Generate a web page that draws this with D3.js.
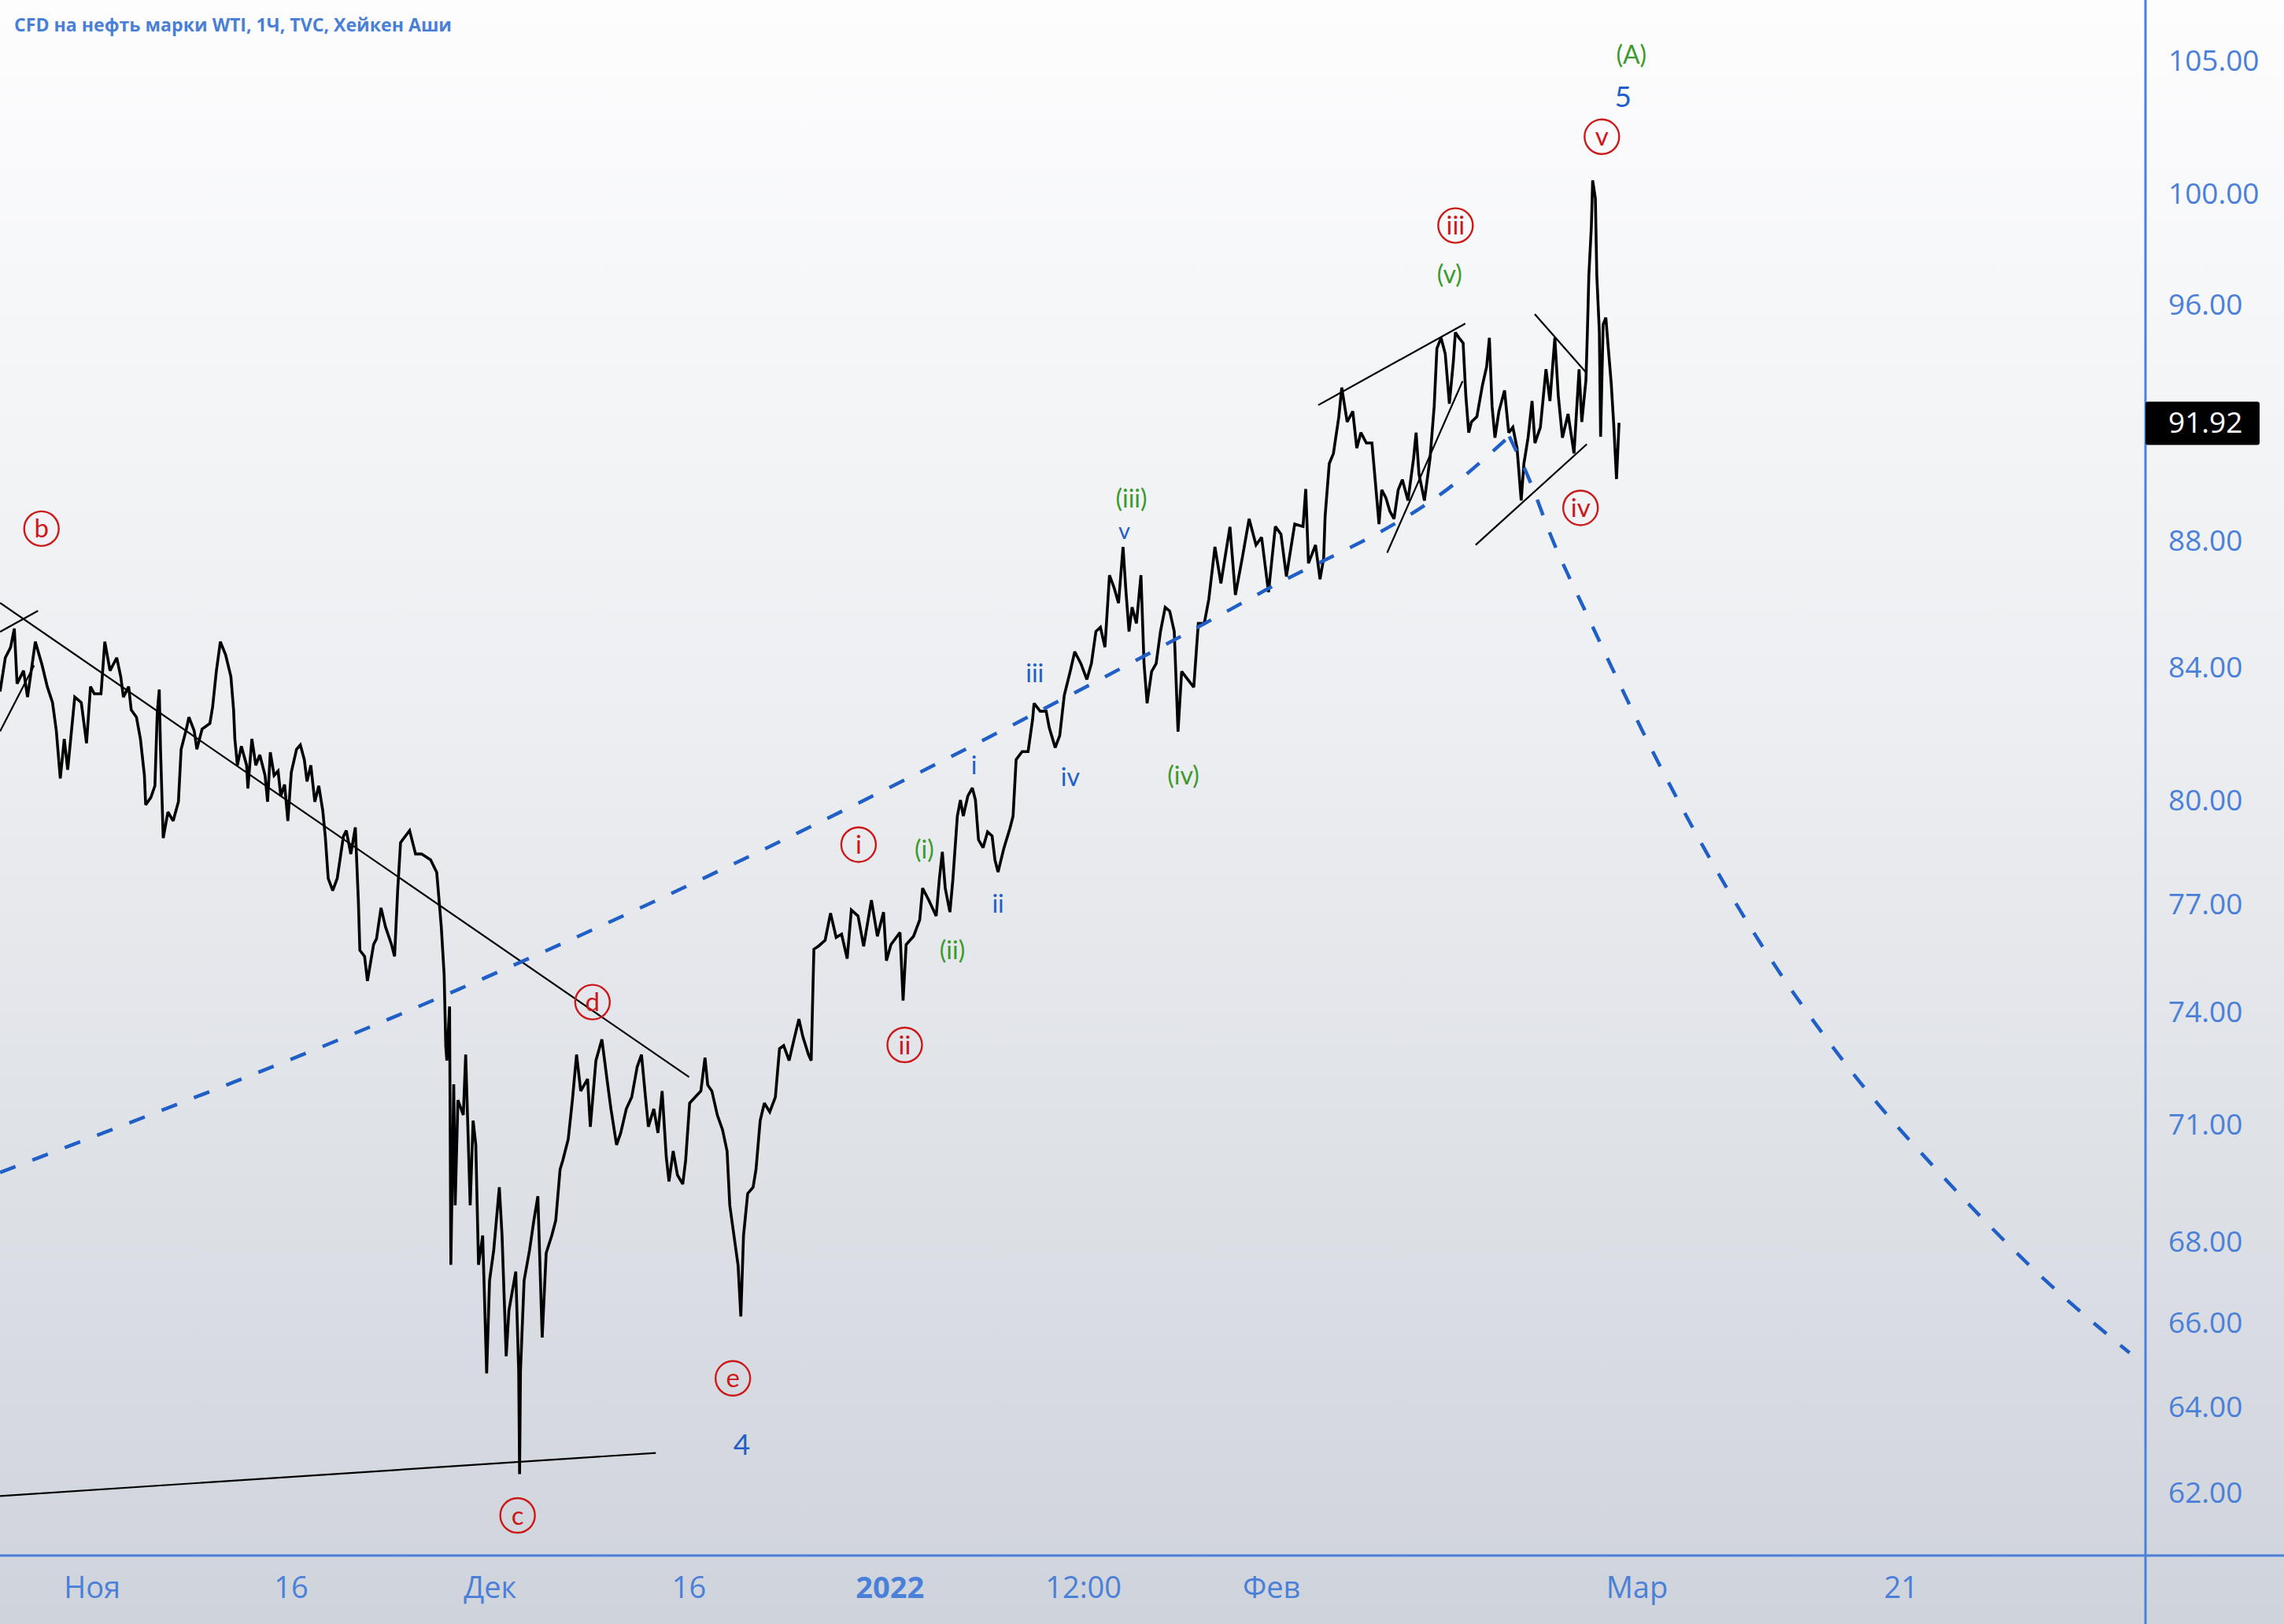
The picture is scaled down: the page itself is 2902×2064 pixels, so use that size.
<!DOCTYPE html>
<html>
<head>
<meta charset="utf-8">
<script src="https://cdn.jsdelivr.net/npm/d3@7"></script>
<style>
body { margin: 0; overflow: hidden; background: #e8e9ed; }
</style>
</head>
<body>
<script>
var width = 2902, height = 2064;
var plotRight = 2726, plotBottom = 1977;

// hourly Heikin Ashi path: trading-day index from 1 Nov 2021, price
var priceDays = [
-5.07,-4.78,-4.49,-4.28,-4.13,-3.77,-3.55,-3.12,-2.75,-2.46,
-2.17,-1.96,-1.74,-1.52,-1.33,-0.94,-0.58,-0.29,-0.07,0.14,
0.51,0.72,1.01,1.38,1.60,1.75,2.04,2.18,2.47,2.69,
2.91,2.98,3.27,3.49,3.62,3.73,3.80,3.95,4.21,4.50,
4.79,4.94,5.23,5.37,5.66,5.81,6.10,6.53,6.68,6.89,
7.11,7.40,7.69,7.84,7.91,8.05,8.27,8.56,8.63,8.85,
9.07,9.29,9.58,9.72,9.87,10.08,10.30,10.45,10.66,10.84,
11.03,11.32,11.53,11.75,11.90,12.11,12.33,12.55,12.77,12.91,
13.07,13.32,13.57,13.91,14.07,14.32,14.57,14.74,14.82,15.08,
15.24,15.58,15.74,15.99,16.24,16.57,16.74,16.91,17.07,17.57,
17.90,18.23,18.73,19.07,19.32,19.48,19.57,19.63,19.78,19.85,
20.01,20.09,20.24,20.54,20.67,20.77,20.92,21.08,21.23,21.38,
21.61,21.83,21.99,22.22,22.53,22.68,22.91,23.06,23.44,23.60,
23.65,23.70,23.90,24.20,24.44,24.66,24.90,25.12,25.43,25.65,
25.89,26.04,26.34,26.57,26.80,27.03,27.41,27.56,27.87,28.20,
28.48,28.70,29.01,29.24,29.55,29.85,30.15,30.39,30.61,30.77,
31.07,31.30,31.53,31.76,31.91,32.14,32.38,32.67,32.83,33.05,
33.36,33.67,33.90,34.05,34.28,34.58,34.87,35.12,35.27,35.50,
35.73,35.88,36.03,36.26,36.56,36.72,36.95,37.18,37.48,37.79,
38.02,38.25,38.55,38.78,39.09,39.31,39.62,39.77,39.92,40.16,
40.54,40.84,41.15,41.45,41.76,41.99,42.36,42.67,43.10,43.43,
43.77,43.93,44.18,44.68,44.85,45.02,45.43,45.77,45.93,46.27,
46.68,46.85,47.02,47.18,47.44,47.60,47.85,48.02,48.18,48.43,
48.68,48.85,49.02,49.27,49.52,49.77,49.93,50.10,50.43,50.76,
50.93,51.10,51.43,51.76,52.01,52.09,52.43,52.76,52.93,53.26,
53.51,53.76,54.09,54.34,54.68,55.01,55.26,55.51,55.76,56.01,
56.26,56.51,56.76,57.01,57.17,57.34,57.51,57.75,58.00,58.17,
58.34,58.59,58.84,59.08,59.34,59.59,59.84,60.05,60.25,60.59,
60.92,61.17,61.50,61.75,62.09,62.42,62.92,63.22,63.60,63.98,
64.36,64.67,65.05,65.43,65.74,66.04,66.50,66.96,67.11,67.26,
67.65,67.90,68.10,68.18,68.41,68.64,68.94,69.10,69.40,69.71,
69.93,70.16,70.46,70.77,70.92,71.16,71.31,71.54,71.76,71.99,
72.22,72.45,72.76,73.07,73.21,73.37,73.67,73.98,74.21,74.36,
74.59,74.82,75.05,75.27,75.38,75.58,75.81,75.96,76.12,76.27,
76.57,76.88,77.11,77.26,77.41,77.57,77.79,78.10,78.33,78.56,
78.79,79.02,79.17,79.40,79.62,79.78,80.08,80.39,80.61,80.88,
81.07,81.30,81.61,81.94,82.22,82.37,82.60,82.68,82.76,82.90,
82.97,83.12,83.20,83.34,83.41,83.55,83.70,83.84,84.00,84.13,
84.29,84.43
];
var priceValues = [
83.27,84.31,84.63,85.22,83.51,83.91,83.10,84.81,84.09,83.42,
82.93,82.08,80.65,81.83,80.91,83.10,82.93,81.70,83.42,83.20,
83.20,84.81,83.91,84.31,83.73,83.10,83.42,82.71,82.49,81.83,
80.74,79.87,80.09,80.43,82.62,83.33,81.52,78.90,79.66,79.40,
79.96,81.52,82.13,82.49,82.08,81.52,82.13,82.30,82.80,83.91,
84.81,84.40,83.73,82.71,81.83,81.04,81.61,81.04,80.35,81.83,
81.04,81.35,80.74,79.96,81.43,80.74,80.87,80.13,80.47,79.40,
80.83,81.52,81.65,81.21,80.56,81.04,79.96,80.43,79.70,78.94,
77.74,77.39,77.74,78.95,79.12,78.44,79.21,77.06,75.71,75.54,
74.86,75.87,76.03,76.90,76.36,75.87,75.54,77.39,78.77,79.12,
78.44,78.44,78.27,77.91,76.38,75.03,73.08,72.70,74.16,67.44,
72.07,68.93,71.65,71.26,72.86,71.26,68.93,71.11,70.48,67.44,
68.17,64.80,67.05,67.80,69.39,68.17,65.21,66.31,67.27,64.85,
62.44,64.85,67.05,67.80,68.55,69.16,65.66,67.73,68.17,68.55,
69.85,70.08,70.63,71.65,72.86,71.89,72.21,70.95,72.70,73.27,
72.21,71.42,70.48,70.79,71.42,71.73,72.53,72.86,71.73,70.95,
71.42,70.79,71.89,70.16,69.54,70.32,69.70,69.47,70.08,71.57,
71.73,71.89,72.78,72.05,71.89,71.26,70.87,70.32,68.93,68.17,
67.42,66.17,68.17,69.23,69.39,69.85,71.11,71.57,71.34,71.73,
73.02,73.10,72.70,73.18,73.82,73.34,72.86,72.70,75.74,75.82,
75.99,76.75,76.07,76.16,75.48,76.84,76.67,75.82,77.12,76.10,
76.78,75.42,75.87,76.21,74.32,75.87,76.10,76.56,77.46,77.12,
76.67,77.69,78.50,77.46,76.78,77.69,79.54,80.01,79.54,80.13,
80.37,80.01,78.85,78.62,79.08,78.96,78.27,77.92,78.62,79.19,
79.54,81.21,81.45,81.45,82.42,82.91,82.67,82.67,82.17,81.57,
81.93,83.15,83.89,84.50,84.13,83.64,84.13,85.13,85.26,84.64,
86.91,86.52,86.02,87.82,86.40,85.13,85.89,85.38,86.91,84.13,
82.91,83.89,84.13,85.13,85.89,85.77,85.13,82.05,83.89,83.64,
83.40,85.38,85.38,86.14,87.82,86.65,88.47,86.28,87.46,88.73,
87.88,88.13,86.37,88.48,88.23,86.87,88.56,88.48,89.71,87.29,
87.88,86.78,87.46,88.81,90.55,90.89,92.13,93.12,91.95,92.31,
91.07,91.59,91.24,91.24,90.20,88.56,89.68,89.42,88.98,88.73,
89.68,90.02,89.33,90.72,91.59,90.20,89.33,90.72,92.48,94.47,
94.84,94.29,92.57,94.02,95.03,94.84,94.66,92.84,91.59,91.95,
92.13,93.21,93.84,94.84,92.48,91.42,92.31,93.02,91.59,91.77,
91.07,89.33,90.55,91.42,92.66,91.24,91.77,93.75,92.66,94.84,
92.84,91.42,92.22,90.89,93.75,91.95,93.38,95.06,97.04,98.82,
100.49,99.84,97.04,95.06,91.45,95.31,95.55,94.44,93.24,91.92,
90.04,91.92
];
var lastPrice = 91.92;

// blue dashed arc, rising and falling legs
var arcUpDays = [-5.07, 20.23, 30.62, 38.44, 51.26, 64.55, 75.81, 78.36];
var arcUpPrices = [69.77, 74.62, 76.97, 78.90, 82.35, 86.33, 90.11, 91.46];
var arcDownDays = [78.36, 79.47, 80.69, 82.83, 86.31, 91.72, 97.13, 102.54, 107.96, 112.65];
var arcDownPrices = [91.46, 90.02, 88.14, 85.45, 81.43, 76.33, 72.50, 69.56, 67.07, 65.29];

// black trend lines: start day, start price, end day, end price
var trendStartDays = [-5.07, -5.07, -5.07, -5.07, 67.80, 71.61, 79.77, 76.50];
var trendStartPrices = [86.03, 85.12, 82.06, 61.94, 92.52, 87.63, 95.67, 87.88];
var trendEndDays = [33.02, -2.97, -3.19, 31.18, 75.93, 75.78, 82.65, 82.65];
var trendEndPrices = [72.26, 85.78, 84.07, 62.93, 95.34, 93.34, 93.61, 91.20];

// wave labels
var labelText = ["b","d","e","c","4","i","ii","(i)","(ii)","i","ii","iii","iv","(iii)","v","(iv)","(v)","iii","iv","v","5","(A)"];
var labelDays = [-2.78,27.68,35.44,23.54,35.93,42.39,44.94,46.02,47.57,48.77,50.10,52.13,54.09,57.47,57.08,60.34,75.06,75.39,82.30,83.48,84.65,85.11];
var labelPrices = [88.41,74.28,64.68,61.50,63.12,78.71,73.12,78.56,75.71,81.03,77.01,83.83,80.68,89.38,88.33,80.74,97.09,98.84,89.09,102.12,103.62,105.25];
var labelKinds = ["red","red","red","red","num","red","red","green","green","blue","blue","blue","blue","green","blue","green","green","red","red","red","num","green"];

var priceTicks = [105, 100, 96, 88, 84, 80, 77, 74, 71, 68, 66, 64, 62];
var timeTickDays = [0, 11, 22, 33, 44.1, 54.8, 65.2, 85.4, 100];
var timeTickLabels = ["Ноя", "16", "Дек", "16", "2022", "12:00", "Фев", "Мар", "21"];

var axisBlue = "#4a80d8";
var waveRed = "#cc1818";
var waveGreen = "#3c9a2c";
var waveBlue = "#1f5fc6";

var x = d3.scaleLinear().domain([0, 100]).range([116.6, 2415]);
var y = d3.scaleLog().domain([62, 105]).range([1898, 77.7]);

var svg = d3.select("body").append("svg")
	.attr("width", width)
	.attr("height", height);

var defs = svg.append("defs");
var grad = defs.append("linearGradient")
	.attr("id", "bg")
	.attr("x1", 0).attr("y1", 0).attr("x2", 0).attr("y2", 1);
grad.append("stop").attr("offset", "0").attr("stop-color", "#fdfdfe");
grad.append("stop").attr("offset", "0.45").attr("stop-color", "#eceef1");
grad.append("stop").attr("offset", "1").attr("stop-color", "#cfd3db");

defs.append("clipPath").attr("id", "plot")
	.append("rect")
	.attr("x", 0).attr("y", 0)
	.attr("width", plotRight).attr("height", plotBottom);

svg.append("rect")
	.attr("width", width)
	.attr("height", height)
	.attr("fill", "url(#bg)");

var plot = svg.append("g").attr("clip-path", "url(#plot)");

// price path
var priceLine = d3.line()
	.x(function(i) { return x(priceDays[i]); })
	.y(function(i) { return y(priceValues[i]); });

plot.append("path")
	.attr("d", priceLine(d3.range(priceDays.length)))
	.attr("fill", "none")
	.attr("stroke", "#000")
	.attr("stroke-width", 3.6)
	.attr("stroke-linejoin", "miter")
	.attr("stroke-miterlimit", 2.5);

// trend lines
plot.selectAll("line.trend")
	.data(d3.range(trendStartDays.length))
	.enter()
	.append("line")
	.attr("class", "trend")
	.attr("x1", function(i) { return x(trendStartDays[i]); })
	.attr("y1", function(i) { return y(trendStartPrices[i]); })
	.attr("x2", function(i) { return x(trendEndDays[i]); })
	.attr("y2", function(i) { return y(trendEndPrices[i]); })
	.attr("stroke", "#000")
	.attr("stroke-width", 2.2);

// dashed arc
function arcPath(days, prices) {
	return d3.line()
		.curve(d3.curveMonotoneX)
		.x(function(i) { return x(days[i]); })
		.y(function(i) { return y(prices[i]); })(d3.range(days.length));
}
[[arcUpDays, arcUpPrices], [arcDownDays, arcDownPrices]].forEach(function(a) {
	plot.append("path")
		.attr("d", arcPath(a[0], a[1]))
		.attr("fill", "none")
		.attr("stroke", "#1f5fc6")
		.attr("stroke-width", 4.5)
		.attr("stroke-dasharray", "21,23");
});

// wave labels
var labels = plot.selectAll("g.wave")
	.data(d3.range(labelText.length))
	.enter()
	.append("g")
	.attr("class", "wave")
	.attr("transform", function(i) {
		return "translate(" + x(labelDays[i]) + "," + y(labelPrices[i]) + ")";
	});

labels.filter(function(i) { return labelKinds[i] == "red"; })
	.append("circle")
	.attr("r", 22)
	.attr("fill", "none")
	.attr("stroke", waveRed)
	.attr("stroke-width", 2.4);

labels.append("text")
	.attr("text-anchor", "middle")
	.attr("dy", "0.35em")
	.attr("font-family", "Lato, 'Open Sans', sans-serif")
	.attr("font-size", function(i) {
		if (labelKinds[i] == "num") return 37;
		if (labelKinds[i] == "red") return 33;
		return labelText[i] == "v" ? 29 : 32;
	})
	.attr("fill", function(i) {
		var k = labelKinds[i];
		if (k == "red") return waveRed;
		if (k == "green") return waveGreen;
		return waveBlue;
	})
	.text(function(i) { return labelText[i]; });

// axes frame
svg.append("line")
	.attr("x1", plotRight).attr("x2", plotRight)
	.attr("y1", 0).attr("y2", height)
	.attr("stroke", axisBlue).attr("stroke-width", 3);
svg.append("line")
	.attr("x1", 0).attr("x2", width)
	.attr("y1", plotBottom).attr("y2", plotBottom)
	.attr("stroke", axisBlue).attr("stroke-width", 3);

// price axis
var yAxis = d3.axisRight(y)
	.tickValues(priceTicks)
	.tickFormat(d3.format(".2f"))
	.tickSize(0)
	.tickPadding(29);
var yg = svg.append("g")
	.attr("transform", "translate(" + plotRight + ",0)")
	.call(yAxis);
yg.select(".domain").remove();
yg.selectAll("text")
	.attr("font-family", "'Open Sans', sans-serif")
	.attr("font-size", 37)
	.attr("fill", axisBlue);

// last price tag
svg.append("rect")
	.attr("x", plotRight)
	.attr("y", y(lastPrice) - 27)
	.attr("width", 145)
	.attr("height", 55)
	.attr("rx", 3)
	.attr("fill", "#000");
svg.append("text")
	.attr("x", plotRight + 29)
	.attr("y", y(lastPrice))
	.attr("dy", "0.35em")
	.attr("font-family", "'Open Sans', sans-serif")
	.attr("font-size", 37)
	.attr("fill", "#fff")
	.text(d3.format(".2f")(lastPrice));

// time axis
var xAxis = d3.axisBottom(x)
	.tickValues(timeTickDays)
	.tickFormat(function(d, i) { return timeTickLabels[i]; })
	.tickSize(0)
	.tickPadding(27);
var xg = svg.append("g")
	.attr("transform", "translate(0," + plotBottom + ")")
	.call(xAxis);
xg.select(".domain").remove();
xg.selectAll("text")
	.attr("font-family", "'Open Sans', sans-serif")
	.attr("font-size", 38)
	.attr("font-weight", function(d, i) { return timeTickLabels[i] == "2022" ? "bold" : "normal"; })
	.attr("fill", axisBlue);

// title
svg.append("text")
	.attr("x", 18)
	.attr("y", 40)
	.attr("font-family", "'Open Sans', sans-serif")
	.attr("font-weight", "bold")
	.attr("font-size", 24)
	.attr("textLength", 556)
	.attr("lengthAdjust", "spacingAndGlyphs")
	.attr("fill", "#4a7fd6")
	.text("CFD на нефть марки WTI, 1Ч, TVC, Хейкен Аши");
</script>
</body>
</html>
